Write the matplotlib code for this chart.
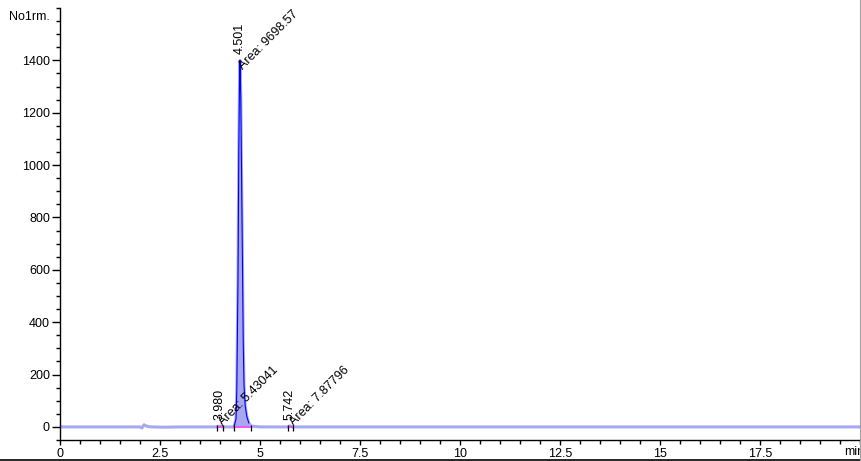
import numpy as np
import matplotlib
matplotlib.use('Agg')
import matplotlib.pyplot as plt
from matplotlib.lines import Line2D
from matplotlib.ticker import MultipleLocator

plt.rcParams['font.family'] = ['Liberation Sans', 'DejaVu Sans']
plt.rcParams['font.size'] = 9

# chromatogram trace (min, signal)
time_min = [0, 2.0, 2.05, 2.1, 2.15, 2.2, 2.3, 2.6, 3.0, 3.5, 3.9, 3.98, 4.06,
            4.35, 4.40, 4.42, 4.45, 4.47, 4.49, 4.501, 4.52, 4.54, 4.56,
            4.58, 4.60, 4.63, 4.67, 4.72, 4.78, 5.0, 5.70, 5.742, 5.80, 6.0, 20.0]
signal = [0, 0, -4, 8, 4, 1, 0, -1, 0, 0, 0, 3, 0,
          0, 30, 140, 560, 1050, 1350, 1400, 1250, 950, 650,
          330, 160, 80, 40, 15, 3, 0, 0, 4, 0, 0, 0]

# integrated peaks
peak_rt = [3.980, 4.501, 5.742]
peak_height = [3, 1400, 4]
peak_area = ['5.43041', '9698.57', '7.87796']
peak_start = [3.92, 4.35, 5.69]
peak_end = [4.08, 4.77, 5.83]

TRACE_LIGHT = '#a8a8f0'
TRACE_DARK = '#0000ff'
BASE_PINK = '#ff40ff'

PX = 0.72  # points per pixel at 100 dpi

fig = plt.figure(figsize=(8.62, 4.61), dpi=100)
ax = fig.add_axes([60 / 862, 21 / 461, 800 / 862, 432 / 461])

t = np.array(time_min)
s = np.array(signal)
ax.plot(t, s, color=TRACE_LIGHT, lw=2.2, zorder=2)

# shaded area and darker outline on the main peak
main = (t >= peak_start[1]) & (t <= peak_end[1])
ax.fill_between(t[main], 0, s[main], color=TRACE_LIGHT, lw=0, zorder=2)
ax.plot(t[main], s[main], color=TRACE_DARK, lw=0.8, zorder=3)

for rt, h, area, st, en in zip(peak_rt, peak_height, peak_area, peak_start, peak_end):
    ax.plot([st, en], [0, 0], color=BASE_PINK, lw=1.2, zorder=4)
    ax.vlines([st, en], -14, 6, color='black', lw=0.9, zorder=5)
    ax.annotate(f'{rt:.3f}', (rt, h), xytext=(0, 6), textcoords='offset pixels',
                rotation=90, rotation_mode='anchor', ha='left', va='center',
                fontsize=9)
    if h > 100:
        off = (3, -10)
    else:
        off = (4, 0)
    ax.annotate(f'Area: {area}', (rt, h), xytext=off, textcoords='offset pixels',
                rotation=45, rotation_mode='anchor', ha='left', va='baseline',
                fontsize=9)

ax.set_xlim(0, 20)
ax.set_ylim(-50, 1600)
ax.set_xticks([0, 2.5, 5, 7.5, 10, 12.5, 15, 17.5])
ax.set_xticklabels(['0', '2.5', '5', '7.5', '10', '12.5', '15', '17.5'])
ax.xaxis.set_minor_locator(MultipleLocator(0.5))
ax.set_yticks(np.arange(0, 1401, 200))
ax.yaxis.set_minor_locator(MultipleLocator(50))
ax.tick_params(axis='y', which='major', length=8 * PX, width=1, pad=2 * PX)
ax.tick_params(axis='y', which='minor', length=4 * PX, width=1)
ax.tick_params(axis='x', which='major', length=5 * PX, width=1, pad=3 * PX)
ax.tick_params(axis='x', which='minor', length=4 * PX, width=1)

for side in ['top', 'right']:
    ax.spines[side].set_visible(False)
for side in ['left', 'bottom']:
    ax.spines[side].set_linewidth(1)

ax.text(-0.0125, 0.993, 'No1rm.', transform=ax.transAxes, ha='right', va='top',
        fontsize=9)
ax.annotate('min', (20, 0), xycoords=('data', 'axes fraction'), xytext=(-6, -8 * PX),
            textcoords='offset pixels', ha='center', va='top', fontsize=9,
            annotation_clip=False)

# frame bits at the figure edges
fig.add_artist(Line2D([0, 1], [0.6 / 461, 0.6 / 461], color='black', lw=1.2,
                      transform=fig.transFigure))
fig.add_artist(Line2D([860.8 / 862, 860.8 / 862], [0, 1], color='#a0a0a0', lw=1.5,
                      transform=fig.transFigure))

fig.savefig('out.png', dpi=100)
